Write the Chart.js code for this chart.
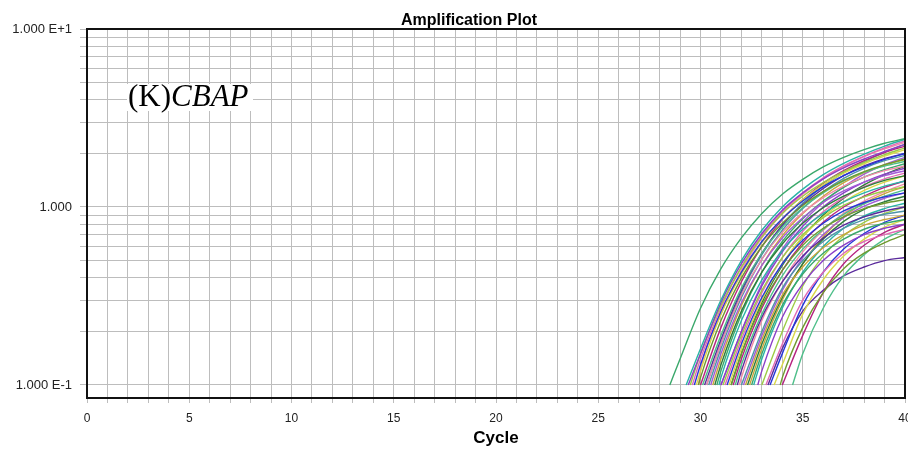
<!DOCTYPE html>
<html>
<head>
<meta charset="utf-8">
<script src="https://cdn.jsdelivr.net/npm/chart.js@4"></script>
<style>
  html, body { margin: 0; padding: 0; background: #fff; }
  canvas { display: block; }
</style>
</head>
<body>
<canvas id="myChart" width="908" height="455"></canvas>
<script>
// cycle where each trace crosses the 0.1 threshold
const cycleStarts = [
    28.5, 29.3, 29.4, 29.5, 29.6, 29.7, 29.8, 29.9, 30.0, 30.1,
    30.2, 30.3, 30.4, 30.5, 30.6, 30.7, 30.8, 30.9, 31.0, 31.1,
    31.2, 31.3, 31.4, 31.5, 31.6, 31.7, 31.8, 31.9, 32.0, 32.1,
    32.2, 32.3, 32.5, 32.6, 32.8, 33.0, 33.2, 33.4, 33.6, 33.9,
    34.0, 34.5, 33.3, 29.9, 30.3, 31.0, 32.4, 31.5
];

// fluorescence at the following whole cycles, up to cycle 40
const curveLevels = [
    [0.14, 0.27, 0.45, 0.67, 0.92, 1.18, 1.43, 1.68, 1.9, 2.1, 2.28, 2.42],
    [0.16, 0.3, 0.5, 0.74, 1.0, 1.26, 1.52, 1.76, 1.98, 2.2, 2.4],
    [0.15, 0.29, 0.48, 0.71, 0.96, 1.2, 1.44, 1.66, 1.86, 2.05, 2.25],
    [0.15, 0.28, 0.46, 0.68, 0.92, 1.15, 1.37, 1.58, 1.78, 1.97, 2.15],
    [0.14, 0.27, 0.46, 0.69, 0.94, 1.2, 1.46, 1.7, 1.93, 2.15, 2.35],
    [0.13, 0.26, 0.43, 0.64, 0.86, 1.08, 1.3, 1.5, 1.68, 1.85, 2.0],
    [0.12, 0.25, 0.42, 0.63, 0.86, 1.1, 1.33, 1.55, 1.75, 1.93, 2.1],
    [0.11, 0.23, 0.4, 0.6, 0.81, 1.02, 1.22, 1.41, 1.58, 1.73, 1.86],
    [0.21, 0.38, 0.6, 0.85, 1.1, 1.36, 1.6, 1.82, 2.02, 2.2],
    [0.19, 0.35, 0.55, 0.77, 0.99, 1.2, 1.4, 1.57, 1.7, 1.8],
    [0.18, 0.34, 0.55, 0.79, 1.03, 1.27, 1.5, 1.7, 1.87, 2.0],
    [0.17, 0.32, 0.51, 0.72, 0.93, 1.13, 1.31, 1.47, 1.6, 1.7],
    [0.16, 0.31, 0.51, 0.74, 0.98, 1.22, 1.45, 1.65, 1.82, 1.95],
    [0.15, 0.29, 0.47, 0.67, 0.87, 1.06, 1.23, 1.38, 1.5, 1.6],
    [0.14, 0.28, 0.47, 0.69, 0.92, 1.15, 1.37, 1.56, 1.72, 1.85],
    [0.13, 0.26, 0.43, 0.62, 0.81, 0.99, 1.15, 1.29, 1.41, 1.5],
    [0.12, 0.25, 0.43, 0.64, 0.86, 1.08, 1.29, 1.47, 1.62, 1.75],
    [0.11, 0.23, 0.39, 0.57, 0.75, 0.92, 1.07, 1.2, 1.31, 1.4],
    [0.2, 0.36, 0.56, 0.78, 1.0, 1.2, 1.38, 1.53, 1.65],
    [0.19, 0.34, 0.52, 0.7, 0.87, 1.02, 1.14, 1.23, 1.3],
    [0.18, 0.33, 0.52, 0.73, 0.94, 1.13, 1.3, 1.44, 1.55],
    [0.17, 0.31, 0.48, 0.65, 0.81, 0.95, 1.06, 1.14, 1.2],
    [0.16, 0.3, 0.48, 0.68, 0.88, 1.07, 1.24, 1.38, 1.5],
    [0.15, 0.28, 0.44, 0.61, 0.76, 0.88, 0.98, 1.05, 1.1],
    [0.14, 0.27, 0.44, 0.63, 0.82, 1.0, 1.15, 1.29, 1.4],
    [0.13, 0.25, 0.41, 0.58, 0.75, 0.91, 1.04, 1.15, 1.25],
    [0.12, 0.24, 0.38, 0.53, 0.67, 0.79, 0.88, 0.95, 1.0],
    [0.11, 0.23, 0.38, 0.56, 0.74, 0.92, 1.08, 1.22, 1.35],
    [0.2, 0.35, 0.5, 0.64, 0.76, 0.85, 0.91, 0.95],
    [0.19, 0.34, 0.52, 0.7, 0.87, 1.01, 1.12, 1.2],
    [0.18, 0.32, 0.46, 0.59, 0.7, 0.79, 0.85, 0.9],
    [0.17, 0.31, 0.48, 0.66, 0.83, 0.97, 1.07, 1.15],
    [0.15, 0.28, 0.42, 0.55, 0.66, 0.75, 0.81, 0.85],
    [0.14, 0.27, 0.43, 0.6, 0.76, 0.89, 0.98, 1.05],
    [0.12, 0.24, 0.37, 0.5, 0.61, 0.7, 0.76, 0.8],
    [0.2, 0.36, 0.53, 0.69, 0.82, 0.92, 1.0],
    [0.17, 0.3, 0.43, 0.55, 0.64, 0.7, 0.75],
    [0.15, 0.28, 0.43, 0.58, 0.71, 0.82, 0.9],
    [0.13, 0.25, 0.39, 0.53, 0.66, 0.77, 0.85],
    [0.11, 0.21, 0.33, 0.45, 0.55, 0.63, 0.7],
    [0.19, 0.33, 0.48, 0.61, 0.72, 0.8],
    [0.15, 0.27, 0.41, 0.54, 0.66, 0.75],
    [0.16, 0.26, 0.34, 0.41, 0.46, 0.5, 0.52],
    [0.12, 0.25, 0.44, 0.67, 0.92, 1.18, 1.44, 1.69, 1.92, 2.12, 2.3],
    [0.17, 0.33, 0.54, 0.79, 1.05, 1.31, 1.56, 1.8, 2.03, 2.25],
    [0.2, 0.37, 0.58, 0.82, 1.06, 1.3, 1.53, 1.73, 1.9],
    [0.16, 0.3, 0.48, 0.68, 0.88, 1.05, 1.19, 1.3],
    [0.15, 0.29, 0.47, 0.68, 0.9, 1.12, 1.33, 1.52, 1.7]
];

const threshold = 0.1;
const lastCycle = 40;

const xTickValues = [];
for (let c = 0; c <= lastCycle; c++) xTickValues.push(c);

const yTickValues = [0.1, 0.2, 0.3, 0.4, 0.5, 0.6, 0.7, 0.8, 0.9,
                     1, 2, 3, 4, 5, 6, 7, 8, 9, 10];
const yTickLabels = { 0.1: "1.000 E-1", 1: "1.000", 10: "1.000 E+1" };

const colores = ["#3aa86b", "#2ab3a6", "#8a3fc8", "#9ccc45", "#e26bb5", "#2636d8",
                 "#d8d84a", "#6f9a2e", "#b5237f", "#4fbf8a", "#5a2a9c", "#f08aa8",
                 "#4e94a8", "#a35bd6", "#c9a43a", "#2f7d3a"];

function crearData() {
    const datasets = [];
    for (let i = 0; i < cycleStarts.length; i++) {
        const levels = curveLevels[i];
        const firstCycle = lastCycle - levels.length + 1;
        const puntos = [{ x: cycleStarts[i], y: threshold }];
        levels.forEach((v, j) => puntos.push({ x: firstCycle + j, y: v }));
        datasets.push({
            data: puntos,
            borderColor: colores[i % colores.length],
            borderWidth: 1.4,
            pointRadius: 0,
            fill: false,
            cubicInterpolationMode: "monotone"
        });
    }
    return { datasets };
}

// title, frame and the (K)CBAP label
const extras = {
    id: "extras",
    afterDraw(chart) {
        const ctx = chart.ctx;
        const a = chart.chartArea;
        ctx.save();
        ctx.strokeStyle = "#111";
        ctx.lineWidth = 2;
        ctx.beginPath();
        ctx.moveTo(a.left, a.top);
        ctx.lineTo(a.right, a.top);
        ctx.lineTo(a.right, a.bottom);
        ctx.stroke();

        ctx.fillStyle = "#000";
        ctx.font = "bold 16px 'Liberation Sans', Arial, sans-serif";
        ctx.textAlign = "center";
        ctx.textBaseline = "alphabetic";
        ctx.fillText("Amplification Plot", 469, 25);

        ctx.fillStyle = "#fff";
        ctx.fillRect(127, 84, 126, 27);
        ctx.fillStyle = "#000";
        ctx.textAlign = "left";
        ctx.font = "31px 'Liberation Serif', 'Times New Roman', serif";
        ctx.fillText("(K)", 128, 106);
        const w = ctx.measureText("(K)").width;
        ctx.font = "italic 31px 'Liberation Serif', 'Times New Roman', serif";
        ctx.fillText("CBAP", 128 + w, 106);
        ctx.restore();
    }
};

const gridColor = "#bdbdbd";

const config = {
    type: "line",
    data: crearData(),
    options: {
        responsive: false,
        animation: false,
        devicePixelRatio: 1,
        layout: { padding: { left: 0, top: 29, right: 3, bottom: 0 } },
        plugins: { legend: { display: false }, tooltip: { enabled: false } },
        scales: {
            x: {
                type: "linear",
                min: 0,
                max: lastCycle,
                afterBuildTicks: (scale) => { scale.ticks = xTickValues.map(v => ({ value: v })); },
                afterFit: (scale) => { scale.height = 57; scale.paddingLeft = 0; scale.paddingRight = 0; },
                ticks: {
                    autoSkip: false,
                    maxRotation: 0,
                    padding: 8,
                    color: "#222",
                    font: { family: "'Liberation Sans', Arial, sans-serif", size: 12 },
                    callback: (v) => (v % 5 === 0 ? String(v) : "")
                },
                grid: { color: gridColor, tickLength: 5, lineWidth: 1 },
                border: { color: "#111", width: 2 },
                title: {
                    display: true,
                    text: "Cycle",
                    color: "#000",
                    padding: { top: 0, bottom: 6 },
                    font: { family: "'Liberation Sans', Arial, sans-serif", size: 17, weight: "bold" }
                }
            },
            y: {
                type: "logarithmic",
                min: 0.0845,
                max: 10,
                afterBuildTicks: (scale) => { scale.ticks = yTickValues.map(v => ({ value: v })); },
                afterFit: (scale) => { scale.width = 87; },
                ticks: {
                    autoSkip: false,
                    padding: 8,
                    color: "#222",
                    font: { family: "'Liberation Sans', Arial, sans-serif", size: 13 },
                    callback: (v) => yTickLabels[v] || ""
                },
                grid: { color: gridColor, tickLength: 7, lineWidth: 1 },
                border: { color: "#111", width: 2 }
            }
        }
    },
    plugins: [extras]
};

const myChart = new Chart(document.getElementById("myChart"), config);
</script>
</body>
</html>
